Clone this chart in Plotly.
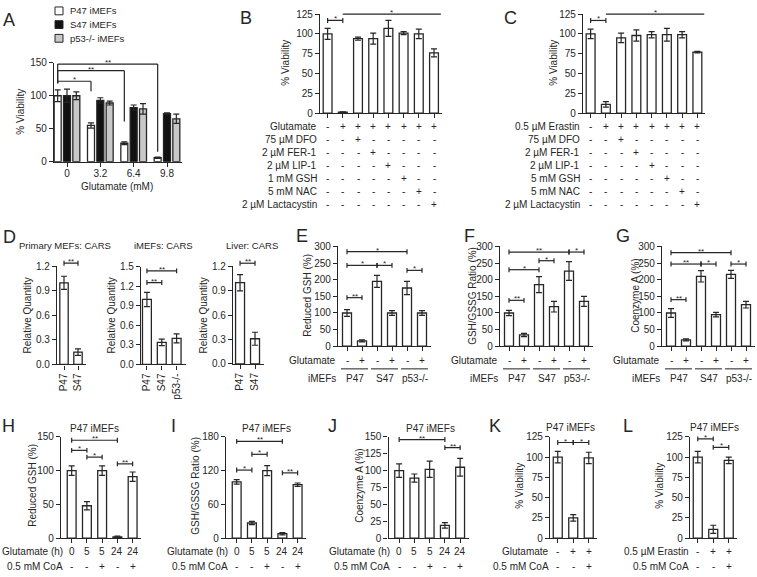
import plotly.graph_objects as go

W, H = 757, 577
FONT = "Liberation Sans, Arial, Helvetica, sans-serif"
INK = "#262626"
FS = 10

# ---------------- data ----------------
A_conc = ["0", "3.2", "6.4", "9.8"]
A_names = ["P47 iMEFs", "S47 iMEFs", "p53-/- iMEFs"]
A_p47 = [100, 55, 28, 6]
A_p47_err = [9, 4, 2, 1]
A_s47 = [100, 93, 82, 73]
A_s47_err = [10, 4, 4, 1]
A_p53 = [100, 89, 80, 65]
A_p53_err = [6, 3, 8, 7]
A_sig_target = [1, 2, 3]
A_sig_level = [122, 138, 148]
A_sig_drop = [107, 61, 15]
A_sig_left = 119
A_sig_star = ["*", "**", "**"]

B_treat = ["Glutamate", "75 µM DFO", "2 µM FER-1", "2 µM LIP-1", "1 mM GSH", "5 mM NAC", "2 µM Lactacystin"]
C_treat = ["0.5 µM Erastin", "75 µM DFO", "2 µM FER-1", "2 µM LIP-1", "5 mM GSH", "5 mM NAC", "2 µM Lactacystin"]
BC_signs = ["-+++++++", "--+-----", "---+----", "----+---", "-----+--", "------+-", "-------+"]
B_vals = [100, 1, 94, 94, 107, 101, 100, 76]
B_err = [7, 0.6, 2, 7, 10, 2, 6, 5]
C_vals = [100, 11, 95, 98, 99, 99, 99, 77]
C_err = [6, 3.5, 6, 7, 4, 8, 4, 1]
BC_sig = [(0, 1, 117, "*")]
BC_long = (1, 7.45, 125, "*")

D1_names = ["P47", "S47"]
D1_vals = [1.0, 0.15]
D1_err = [0.08, 0.04]
D1_sig = [(0, 1, 1.24, "**")]
D2_names = ["P47", "S47", "p53-/-"]
D2_vals = [1.0, 0.34, 0.40]
D2_err = [0.11, 0.05, 0.07]
D2_sig = [(0, 2, 1.44, "**"), (0, 1, 1.26, "**")]
D3_names = ["P47", "S47"]
D3_vals = [1.0, 0.31]
D3_err = [0.10, 0.08]
D3_sig = [(0, 1, 1.24, "**")]

EFG_glut = "-+-+-+"
EFG_cells = ["P47", "S47", "p53-/-"]
E_vals = [100, 16, 195, 100, 175, 100]
E_err = [10, 3, 18, 7, 20, 7]
E_sig = [(0, 4, 284, "*"), (0, 2, 243, "*"), (2, 3, 243, "*"), (4, 5, 228, "*"), (0, 1, 146, "**")]
F_vals = [100, 34, 185, 119, 226, 135]
F_err = [8, 5, 24, 16, 28, 15]
F_sig = [(0, 4, 283, "**"), (4, 5, 283, "*"), (2, 3, 257, "*"), (0, 2, 230, "*"), (0, 1, 138, "**")]
G_vals = [100, 19, 210, 95, 216, 125]
G_err = [13, 3, 17, 7, 12, 10]
G_sig = [(0, 4, 281, "**"), (0, 2, 247, "**"), (2, 3, 247, "*"), (4, 5, 247, "*"), (0, 1, 140, "**")]

HIJ_time = ["0", "5", "5", "24", "24"]
HIJ_coa = "--+-+"
H_vals = [100, 48, 100, 2, 91]
H_err = [7, 6, 7, 1, 7]
H_sig = [(0, 3, 145, "**"), (0, 1, 130, "*"), (1, 2, 120, "*"), (3, 4, 110, "**")]
I_vals = [100, 27, 120, 8, 95]
I_err = [4, 3, 9, 2, 3]
I_sig = [(0, 3, 172, "**"), (1, 2, 149, "*"), (0, 1, 121, "*"), (3, 4, 116, "**")]
J_vals = [100, 89, 102, 19, 105]
J_err = [10, 6, 12, 4, 13]
J_sig = [(0, 3, 146, "**"), (3, 4, 134, "**")]
KL_first = "-++"
KL_coa = "--+"
K_vals = [100, 25, 99]
K_err = [7, 4, 7]
K_sig = [(0, 1, 118, "*"), (1, 2, 118, "*")]
L_vals = [100, 11, 96]
L_err = [7, 5, 4]
L_sig = [(0, 1, 122.5, "*"), (1, 2, 112, "*")]

# ---------------- helpers ----------------
fig = go.Figure()
LAY = dict(width=W, height=H, margin=dict(l=0, r=0, t=0, b=0), paper_bgcolor="white",
           plot_bgcolor="rgba(0,0,0,0)", barmode="overlay", showlegend=False,
           font=dict(family=FONT, size=FS, color=INK))
ann, shp, AX = [], [], {}


def f(size=FS, color=INK):
    return dict(family=FONT, size=size, color=color)


def axes(i, xpx, ypx, xr, ytop, yticks, ytext=None, xtickvals=None, xticktext=None, xangle=None,
         xstandoff=0):
    s = "" if i == 1 else str(i)
    AX[i] = dict(x="x" + s, y="y" + s, ytop=ytop, ypx=ypx[1] - ypx[0])
    common = dict(showline=True, linecolor=INK, linewidth=1.3, ticks="outside", ticklen=4,
                  tickwidth=1.2, tickcolor=INK, showgrid=False, zeroline=False, fixedrange=True,
                  tickfont=f(), tickmode="array")
    xa = dict(common, domain=[xpx[0] / W, xpx[1] / W], range=list(xr), anchor="y" + s,
              tickvals=xtickvals, ticktext=xticktext, showticklabels=xticktext is not None,
              ticklabelstandoff=xstandoff)
    if xangle is not None:
        xa["tickangle"] = xangle
    LAY["xaxis" + s] = xa
    ya = dict(common, domain=[1 - ypx[1] / H, 1 - ypx[0] / H], range=[0, ytop], anchor="x" + s,
              tickvals=yticks)
    if ytext is not None:
        ya["ticktext"] = ytext
    LAY["yaxis" + s] = ya


def bars(i, x, y, err, color="white", width=0.6):
    a = AX[i]
    fig.add_trace(go.Bar(x=x, y=y, width=width, xaxis=a["x"], yaxis=a["y"],
                         marker=dict(color=color, line=dict(color=INK, width=1.3)),
                         error_y=dict(type="data", array=err, visible=True, color=INK,
                                      thickness=1.2, width=3),
                         hoverinfo="skip", showlegend=False))


def seg(i, x0, v0, x1, v1, color=INK, w=1.2):
    a = AX[i]
    shp.append(dict(type="line", xref=a["x"], yref=a["y"] + " domain", x0=x0, x1=x1,
                    y0=v0 / a["ytop"], y1=v1 / a["ytop"], line=dict(color=color, width=w)))


def star(i, x, v, txt):
    a = AX[i]
    ann.append(dict(xref=a["x"], yref=a["y"] + " domain", x=x, y=v / a["ytop"], text=txt,
                    showarrow=False, font=f(8), yanchor="bottom", yshift=-5))


def brackets(i, specs, cap_px=2.5):
    a = AX[i]
    c = cap_px * a["ytop"] / a["ypx"]
    for p, q, h, s in specs:
        seg(i, p, h, q, h)
        seg(i, p, h - c, p, h + c)
        seg(i, q, h - c, q, h + c)
        star(i, (p + q) / 2, h, s)


def rows(i, labels, rowvals, ys, gap=8):
    a = AX[i]
    for lab, vals, yy in zip(labels, rowvals, ys):
        ann.append(dict(xref=a["x"], yref="paper", x=0, y=1 - yy / H, text=lab, showarrow=False,
                        xanchor="right", yanchor="middle", xshift=-gap, font=f()))
        for k, v in enumerate(vals):
            ann.append(dict(xref=a["x"], yref="paper", x=k, y=1 - yy / H, text=v, showarrow=False,
                            xanchor="center", yanchor="middle", font=f()))


def text(xp, yp, t, size=FS, xanchor="center", angle=0):
    ann.append(dict(xref="paper", yref="paper", x=xp / W, y=1 - yp / H, text=t, showarrow=False,
                    xanchor=xanchor, yanchor="middle", textangle=angle, font=f(size)))


def letter(xp, yp, t):
    text(xp, yp, t, size=18)


# ---------------- Panel A ----------------
axes(1, (54, 182), (58, 159), (-0.39, 3.45), 150, [0, 50, 100, 150],
     xtickvals=list(range(4)), xticktext=A_conc, xstandoff=-2)
off = [-0.28, 0.0, 0.28]
A_colors = ["white", "#111111", "#c8c8c8"]
for k, (vals, errs) in enumerate([(A_p47, A_p47_err), (A_s47, A_s47_err), (A_p53, A_p53_err)]):
    bars(1, [g + off[k] for g in range(4)], vals, errs, color=A_colors[k], width=0.21)
x0 = 0 + off[0]
for t, lv, dr, st in zip(A_sig_target, A_sig_level, A_sig_drop, A_sig_star):
    x1 = t + off[0]
    seg(1, x0, A_sig_left, x0, lv)
    seg(1, x0, lv, x1, lv)
    seg(1, x1, lv, x1, dr)
    star(1, (x0 + x1) / 2, lv, st)
for k, nm in enumerate(A_names):
    yc = 5 + 14 * k
    shp.append(dict(type="rect", xref="paper", yref="paper", x0=55 / W, x1=63 / W,
                    y0=1 - (yc + 4) / H, y1=1 - (yc - 4) / H, fillcolor=A_colors[k],
                    line=dict(color=INK, width=1)))
    text(68, yc, nm, size=9.5, xanchor="left")
letter(9, 14, "A")
text(21, 108, "% Viability", angle=-90)
text(117, 184, "Glutamate (mM)")

# ---------------- Panels B, C ----------------
row_y = [122.7 + 13.35 * k for k in range(7)]
for i, xpx, vals, errs, treat, lx, tx in [(2, (320, 441.6), B_vals, B_err, B_treat, 246, 286),
                                          (3, (583, 705), C_vals, C_err, C_treat, 511, 554)]:
    axes(i, xpx, (8.3, 109.3), (-0.5, 7.5), 125, [0, 25, 50, 75, 100, 125],
         xtickvals=list(range(8)))
    bars(i, list(range(8)), vals, errs, width=0.58)
    brackets(i, BC_sig)
    p, q, h, s = BC_long
    seg(i, p, h, q, h)
    star(i, (p + q) / 2, h, s)
    rows(i, treat, [list(r) for r in BC_signs], row_y, gap=9)
    letter(lx, 12, "B" if i == 2 else "C")
    text(tx, 58, "% Viability", angle=-90)

# ---------------- Panel D ----------------
d_specs = [
    (4, (57, 86.4), (266, 366), (-0.5, 1.6), 1.2, D1_names, D1_vals, D1_err, D1_sig, 65, "Primary MEFs: CARS", 27),
    (5, (141, 185.5), (266.5, 366), (-0.4, 2.6), 1.5, D2_names, D2_vals, D2_err, D2_sig, 163, "iMEFs: CARS", 111),
    (6, (233, 264), (266, 365.5), (-0.47, 1.6), 1.2, D3_names, D3_vals, D3_err, D3_sig, 252, "Liver: CARS", 203),
]
for i, xpx, ypx, xr, top, names, vals, errs, sig, tcx, title, ytx in d_specs:
    ticks = [round(0.3 * k, 1) for k in range(int(round(top / 0.3)) + 1)]
    axes(i, xpx, ypx, xr, top, ticks, ytext=["%.1f" % t for t in ticks],
         xtickvals=list(range(len(names))), xticktext=names, xangle=-90)
    bars(i, list(range(len(names))), vals, errs, width=0.6)
    brackets(i, sig)
    text(tcx, 245, title, size=9.5)
    text(ytx, 316, "Relative Quantity", angle=-90)
letter(9, 236, "D")

# ---------------- Panels E, F, G ----------------
efg = [(7, 338, E_vals, E_err, E_sig, "E", 302, "Reduced GSH (%)", 308),
       (8, 500, F_vals, F_err, F_sig, "F", 470, "GSH/GSSG Ratio (%)", 473),
       (9, 662, G_vals, G_err, G_sig, "G", 623, "Coenzyme A (%)", 636)]
for i, x0p, vals, errs, sig, lab, lx, yt, ytx in efg:
    axes(i, (x0p, x0p + 93), (245.5, 347.5), (-0.6, 5.6), 300, [0, 50, 100, 150, 200, 250, 300],
         xtickvals=list(range(6)))
    bars(i, list(range(6)), vals, errs, width=0.6)
    brackets(i, sig)
    rows(i, ["Glutamate"], [list(EFG_glut)], [362], gap=9)
    a = AX[i]
    ann.append(dict(xref=a["x"], yref="paper", x=0, y=1 - 380 / H, text="iMEFs", showarrow=False,
                    xanchor="right", yanchor="middle", xshift=-9, font=f()))
    for g, cell in enumerate(EFG_cells):
        ann.append(dict(xref=a["x"], yref="paper", x=2 * g + 0.5, y=1 - 380 / H, text=cell,
                        showarrow=False, xanchor="center", yanchor="middle", font=f()))
        shp.append(dict(type="line", xref=a["x"], yref="paper", x0=2 * g - 0.4, x1=2 * g + 1.4,
                        y0=1 - 370.5 / H, y1=1 - 370.5 / H, line=dict(color="#6a6a6a", width=1.5)))
    letter(lx, 235, lab)
    text(ytx, 296, yt, angle=-90)

# ---------------- Panels H-L ----------------
hl = [(10, (61, 141), (-0.7, 4.55), 150, [0, 50, 100, 150], H_vals, H_err, H_sig, "H", 8.5, 94, "Reduced GSH (%)", 33),
      (11, (226, 306), (-0.7, 4.55), 180, [0, 60, 120, 180], I_vals, I_err, I_sig, "I", 173, 266, "GSH/GSSG Ratio (%)", 196),
      (12, (388.5, 468.5), (-0.7, 4.55), 150, [0, 25, 50, 75, 100, 125, 150], J_vals, J_err, J_sig, "J", 332, 430, "Coenzyme A (%)", 360)]
for i, xpx, xr, top, yt, vals, errs, sig, lab, lx, tcx, ytt, ytx in hl:
    axes(i, xpx, (440, 543.5), xr, top, yt, xtickvals=list(range(5)))
    bars(i, list(range(5)), vals, errs, width=0.58)
    brackets(i, sig)
    rows(i, ["Glutamate (h)", "0.5 mM CoA"], [HIJ_time, list(HIJ_coa)], [557.5, 572], gap=7)
    letter(lx, 429, lab)
    text(tcx, 431, "P47 iMEFs")
    text(ytx, 490, ytt, angle=-90)

kl = [(13, (550, 596.5), K_vals, K_err, K_sig, "Glutamate", "K", 495, 570, 520),
      (14, (690, 736.5), L_vals, L_err, L_sig, "0.5 µM Erastin", "L", 628, 714, 660)]
for i, xpx, vals, errs, sig, first, lab, lx, tcx, ytx in kl:
    axes(i, xpx, (440, 543.5), (-0.5, 2.5), 125, [0, 25, 50, 75, 100, 125], xtickvals=list(range(3)))
    bars(i, list(range(3)), vals, errs, width=0.58)
    brackets(i, sig)
    rows(i, [first, "0.5 mM CoA"], [list(KL_first), list(KL_coa)], [557.5, 572], gap=7)
    letter(lx, 429, lab)
    text(tcx, 430, "P47 iMEFs")
    text(ytx, 490, "% Viability", angle=-90)

LAY["annotations"] = ann
LAY["shapes"] = shp
fig.update_layout(**LAY)
fig.write_html("out.html", config={"displayModeBar": False},
               post_script="document.body.style.margin='0px';document.body.style.overflow='hidden';")
